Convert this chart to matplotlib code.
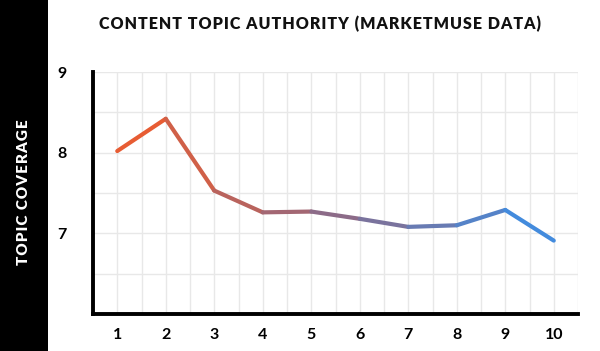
import matplotlib
matplotlib.use("Agg")
import matplotlib.pyplot as plt
import numpy as np
from matplotlib.collections import LineCollection
from matplotlib.colors import LinearSegmentedColormap
from matplotlib.patches import Rectangle

# data
positions = [1, 2, 3, 4, 5, 6, 7, 8, 9, 10]
coverage = [8.02, 8.42, 7.53, 7.26, 7.27, 7.18, 7.08, 7.10, 7.29, 6.91]
y_ticks = [7, 8, 9]

title = "CONTENT TOPIC AUTHORITY (MARKETMUSE DATA)"
ylabel = "TOPIC COVERAGE"

plt.rcParams['font.family'] = ['Lato', 'DejaVu Sans']


def spaced(s):
    # rough letter spacing with hair spaces
    return "\u200a".join(s)


fig = plt.figure(figsize=(6.0, 3.51), dpi=100)
fig.patches.append(Rectangle((0, 0), 48 / 600, 1, transform=fig.transFigure,
                             facecolor="black", edgecolor="none", zorder=0))

ax = fig.add_axes([93 / 600, 1 - 314 / 351, 485 / 600, 242 / 351])
ax.set_xlim(0.5, 10.5)
ax.set_ylim(6, 9)

# grid every half step
for gx in np.arange(0.5, 10.51, 0.5):
    ax.axvline(gx, color="#e8e8e8", lw=1, zorder=0)
for gy in np.arange(6.5, 9.01, 0.5):
    ax.axhline(gy, color="#e8e8e8", lw=1, zorder=0)

# gradient line: orange -> mauve -> blue
cmap = LinearSegmentedColormap.from_list("grad", ["#f25a28", "#8c6b88", "#3a8fe8"])
pts = np.column_stack([positions, coverage])
segs = np.stack([pts[:-1], pts[1:]], axis=1)
mids = (np.array(positions[:-1]) + np.array(positions[1:])) / 2
lc = LineCollection(segs, colors=cmap((mids - 1) / 9), linewidths=3.0,
                    capstyle="round", joinstyle="round", zorder=3)
ax.add_collection(lc)

for s in ["top", "right"]:
    ax.spines[s].set_visible(False)
for s in ["left", "bottom"]:
    ax.spines[s].set_linewidth(2.8)
    ax.spines[s].set_color("black")

ax.set_xticks(positions)
ax.set_yticks(y_ticks)
ax.tick_params(length=0, labelsize=11.5, pad=10)
for lbl in ax.get_xticklabels() + ax.get_yticklabels():
    lbl.set_fontweight("bold")
ax.tick_params(axis="y", pad=19)

fig.text(0.533, 1 - 24 / 351, spaced(title), ha="center", va="center",
         fontsize=11.5, fontweight="heavy", color="#111111")
fig.text(24 / 600, 1 - 192 / 351, spaced(ylabel), ha="center", va="center",
         rotation=90, fontsize=11, fontweight="heavy", color="white")

fig.savefig("out.png", dpi=100)
